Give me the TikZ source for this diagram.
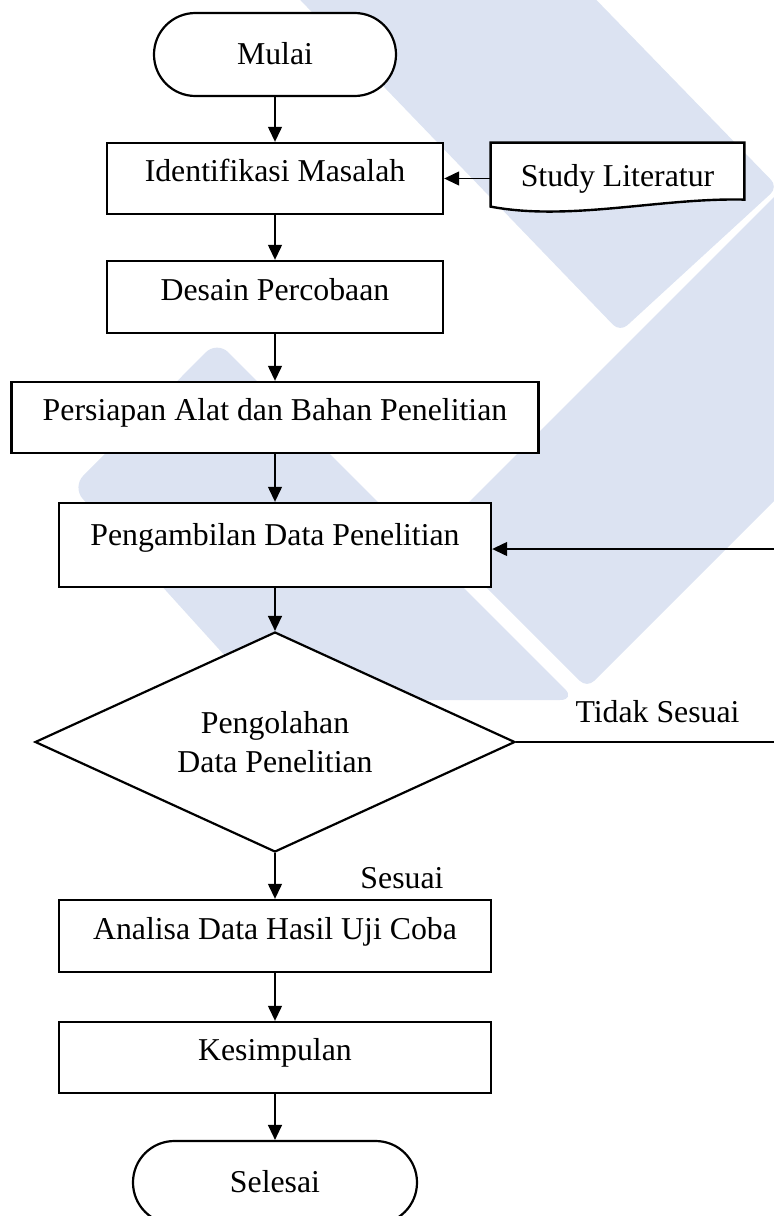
\documentclass[tikz,border=0pt]{standalone}
\usepackage{fontspec}
\setmainfont{Liberation Serif}
\usetikzlibrary{arrows.meta,positioning,shapes.geometric,backgrounds}
\definecolor{wmblue}{RGB}{220,227,242}

\begin{document}
\begin{tikzpicture}[x=0.5pt,y=-0.5pt,node distance=60pt,on grid,
    font=\fontsize{15.9}{19.5}\selectfont,
    box/.style={draw,fill=white,line width=1.2pt,minimum height=35.5pt,text height=0.7em,text depth=0.38em},
    term/.style={draw,fill=white,rounded corners=20.7pt,line width=1.1pt,minimum height=41.5pt,text height=0.95em,text depth=0pt},
    decision/.style={draw,fill=white,diamond,aspect=2.18,line width=1.1pt,align=center,inner sep=0pt},
    lbl/.style={inner sep=0pt},
    flow/.style={-{Triangle[length=7.5pt,width=7pt]},line width=0.65pt}]
  \useasboundingbox (0,0) rectangle (774,1216);
  % watermark in the back
  \begin{scope}[on background layer]
    \fill[wmblue,rounded corners=5pt] (281,-20) -- (577,-20) -- (778,187) -- (620,332) -- cycle;
    \fill[wmblue,rounded corners=5pt] (790,181) -- (435,536) -- (587,688) -- (790,485) -- cycle;
    \fill[wmblue,rounded corners=8pt] (217,341) -- (576,700) -- (265,700) -- (72,487) -- cycle;
  \end{scope}

  \node[term, minimum width=121pt] (mulai) at (275,54.5) {Mulai};
  \node[box, minimum width=168pt] (ident) [below=62pt of mulai] {Identifikasi Masalah};
  \node[minimum width=126.5pt, minimum height=35.5pt] (study) [right=171.25pt of ident] {Study Literatur};
  \node[box, minimum width=168pt, minimum height=36pt] (desain) [below=59.25pt of ident] {Desain Percobaan};
  \node[box, minimum width=263.5pt] (siap) [below=60.25pt of desain] {Persiapan Alat dan Bahan Penelitian};
  \node[box, minimum width=216pt, minimum height=42pt, text depth=0.7em] (ambil) [below=63.75pt of siap] {Pengambilan Data Penelitian};
  \node[decision, minimum width=240pt, minimum height=110pt] (olah) [below=98.5pt of ambil] {Pengolahan\\Data Penelitian};
  \node[box, minimum width=216pt, minimum height=36pt] (analisa) [below=97pt of olah] {Analisa Data Hasil Uji Coba};
  \node[box, minimum width=216pt] (simpul) [below=60.75pt of analisa] {Kesimpulan};
  \node[term, minimum width=142pt] (selesai) [below=62.5pt of simpul] {Selesai};

  % document shape behind its text
  \begin{scope}[on background layer]
    \filldraw[fill=white,line width=1.2pt] (study.north west) -- (study.north east)
      -- ([shift={(0,57)}]study.north east)
      .. controls ([shift={(-84,55)}]study.north east) and ([shift={(79,79)}]study.north west)
      .. ([shift={(0,64)}]study.north west) -- cycle;
  \end{scope}

  \draw[flow] (mulai) -- (ident);
  \draw[flow] (study) -- (ident);
  \draw[flow] (ident) -- (desain);
  \draw[flow] (desain) -- (siap);
  \draw[flow] (siap) -- (ambil);
  \draw[flow] (ambil) -- (olah);
  \draw[flow] (olah) -- (analisa);
  \draw[flow] (analisa) -- (simpul);
  \draw[flow] (simpul) -- (selesai);

  \coordinate (balik) at (778,742);
  \draw[flow] (olah.east) -- node[lbl, pos=0.54, anchor=south, yshift=9.5pt] (tidak) {Tidak Sesuai} (balik)
    |- ([yshift=-2pt]ambil.east);
  \node[lbl, anchor=south] (sesuai) at ([xshift=63.5pt,yshift=5pt]analisa.north) {Sesuai};
\end{tikzpicture}
\end{document}
